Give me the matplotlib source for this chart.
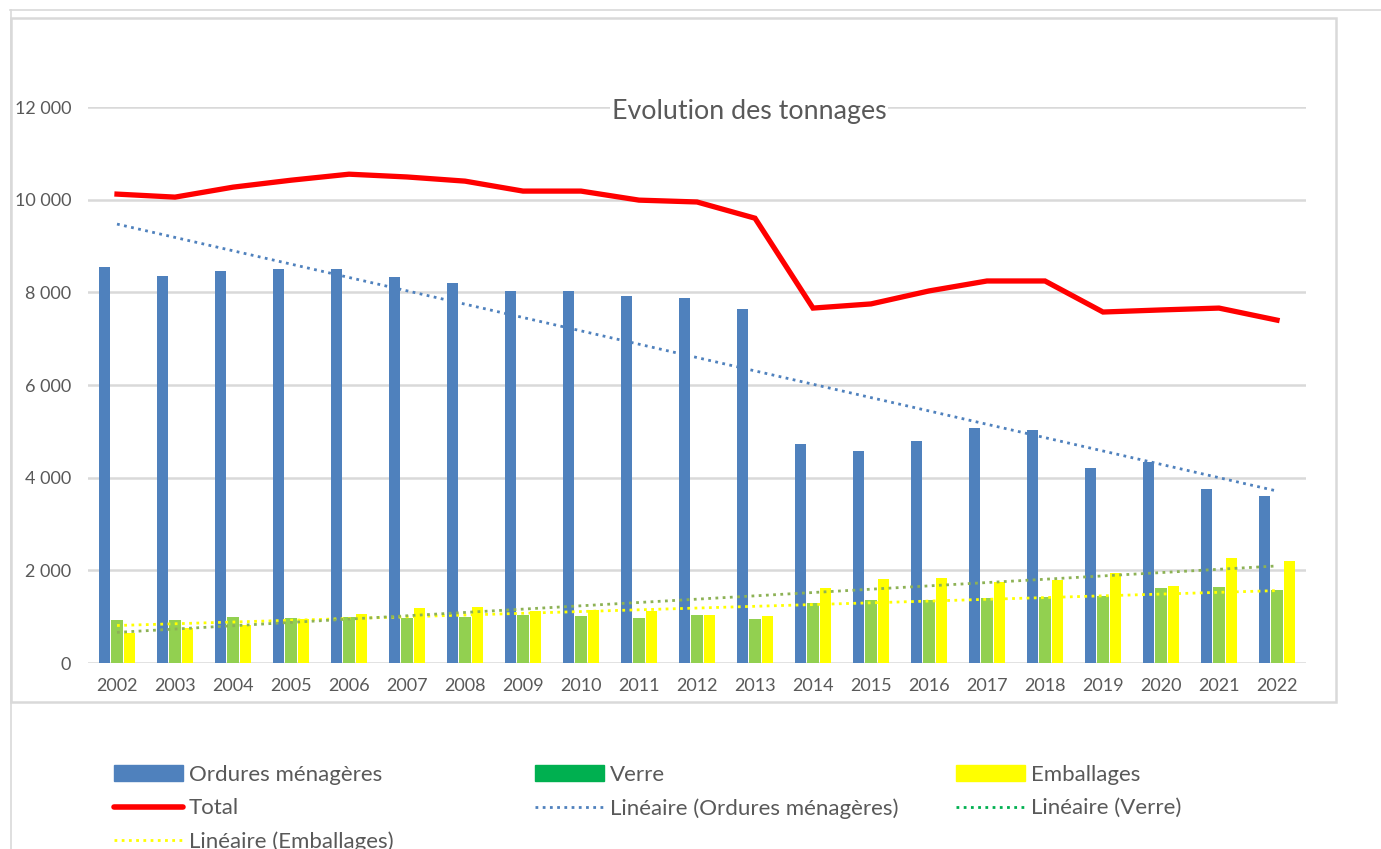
import numpy as np
import matplotlib.pyplot as plt
from matplotlib.patches import Patch, Rectangle
from matplotlib.lines import Line2D
from matplotlib.ticker import FuncFormatter

# data
years = [str(y) for y in range(2002, 2023)]
ordures = [8540, 8350, 8460, 8500, 8500, 8330, 8200, 8020, 8020, 7920, 7880, 7640,
           4720, 4580, 4790, 5070, 5030, 4200, 4340, 3750, 3600]
verre = [920, 935, 990, 970, 990, 975, 990, 1035, 1010, 970, 1045, 950,
         1300, 1360, 1360, 1400, 1425, 1445, 1620, 1640, 1575]
emballages = [650, 755, 820, 950, 1065, 1185, 1210, 1130, 1150, 1115, 1030, 1020,
              1620, 1815, 1835, 1740, 1785, 1935, 1660, 2270, 2195]
total = [10120, 10055, 10270, 10420, 10550, 10490, 10400, 10185, 10185, 9990, 9950, 9600,
         7660, 7750, 8030, 8245, 8245, 7575, 7620, 7660, 7400]

blue = '#4F81BD'
green_bar = '#92D050'
green_leg = '#00B050'
olive = '#8DB255'
yellow = '#FFFF00'
red = '#FF0000'
grey_text = '#595959'
grid = '#D9D9D9'

plt.rcParams['font.family'] = ['Lato', 'DejaVu Sans']

W, H = 1381, 849
fig = plt.figure(figsize=(W / 100, H / 100), dpi=100)
ax = fig.add_axes([88 / W, 1 - 663 / H, (1306 - 88) / W, (663 - 107) / H])

x = np.arange(len(years))
bw = 0.19
off = 0.222
ax.bar(x - off, ordures, bw, color=blue, zorder=2)
ax.bar(x, verre, bw, color=green_bar, zorder=2)
ax.bar(x + off, emballages, bw, color=yellow, zorder=2)

# linear trendlines
dot = (0, (1, 1.6))
for vals, col in [(ordures, blue), (verre, yellow), (emballages, olive)]:
    k, b = np.polyfit(x, vals, 1)
    ax.plot(x, k * x + b, color=col, lw=2.0, linestyle=dot, zorder=3)

ax.plot(x, total, color=red, lw=3.8, zorder=4, solid_joinstyle='miter')

ax.set_xlim(-0.5, 20.5)
ax.set_ylim(0, 12000)
ax.set_yticks(range(0, 12001, 2000))
ax.yaxis.set_major_formatter(FuncFormatter(lambda v, p: f'{int(v):,}'.replace(',', ' ')))
ax.set_xticks(x)
ax.set_xticklabels(years)
ax.tick_params(axis='both', length=0, labelsize=13, colors=grey_text)
ax.tick_params(axis='y', pad=12)
ax.tick_params(axis='x', pad=11)
ax.grid(axis='y', color=grid, lw=1.8, zorder=0)
for s in ax.spines.values():
    s.set_visible(False)
ax.set_axisbelow(True)

fig.text(749 / W, 1 - 112 / H, 'Evolution des tonnages', ha='center', va='center',
         fontsize=19.3, color=grey_text,
         bbox=dict(facecolor='white', edgecolor='none', pad=1))

# chart border and surrounding lines
fig.add_artist(Rectangle((11 / W, 1 - 702 / H), (1336 - 11) / W, (702 - 18) / H,
                         transform=fig.transFigure, fill=False, edgecolor=grid, lw=1.8))
fig.add_artist(Line2D([10 / W, 1], [1 - 9.5 / H, 1 - 9.5 / H], color=grid, lw=1.2))
fig.add_artist(Line2D([10.5 / W, 10.5 / W], [0, 1 - 9.5 / H], color=grid, lw=1.2))

# legend, three columns
h_ord = Patch(color=blue, label='Ordures ménagères')
h_ver = Patch(color=green_leg, label='Verre')
h_emb = Patch(color=yellow, label='Emballages')
h_tot = Line2D([], [], color=red, lw=4, solid_capstyle='round', label='Total')
h_lo = Line2D([], [], color=blue, lw=2, linestyle=dot, label='Linéaire (Ordures ménagères)')
h_lv = Line2D([], [], color=green_leg, lw=2, linestyle=dot, label='Linéaire (Verre)')
h_le = Line2D([], [], color=yellow, lw=2, linestyle=dot, label='Linéaire (Emballages)')

cols = [([h_ord, h_tot, h_le], 114), ([h_ver, h_lo], 535), ([h_emb, h_lv], 956)]
for handles, xp in cols:
    fig.legend(handles=handles, loc='upper left', bbox_to_anchor=(xp / W, 1 - 765 / H),
               frameon=False, fontsize=16, labelcolor=grey_text, handlelength=3.1,
               handletextpad=0.28, labelspacing=0.6, borderpad=0, borderaxespad=0)

fig.savefig('out.png', dpi=100, facecolor='white')
